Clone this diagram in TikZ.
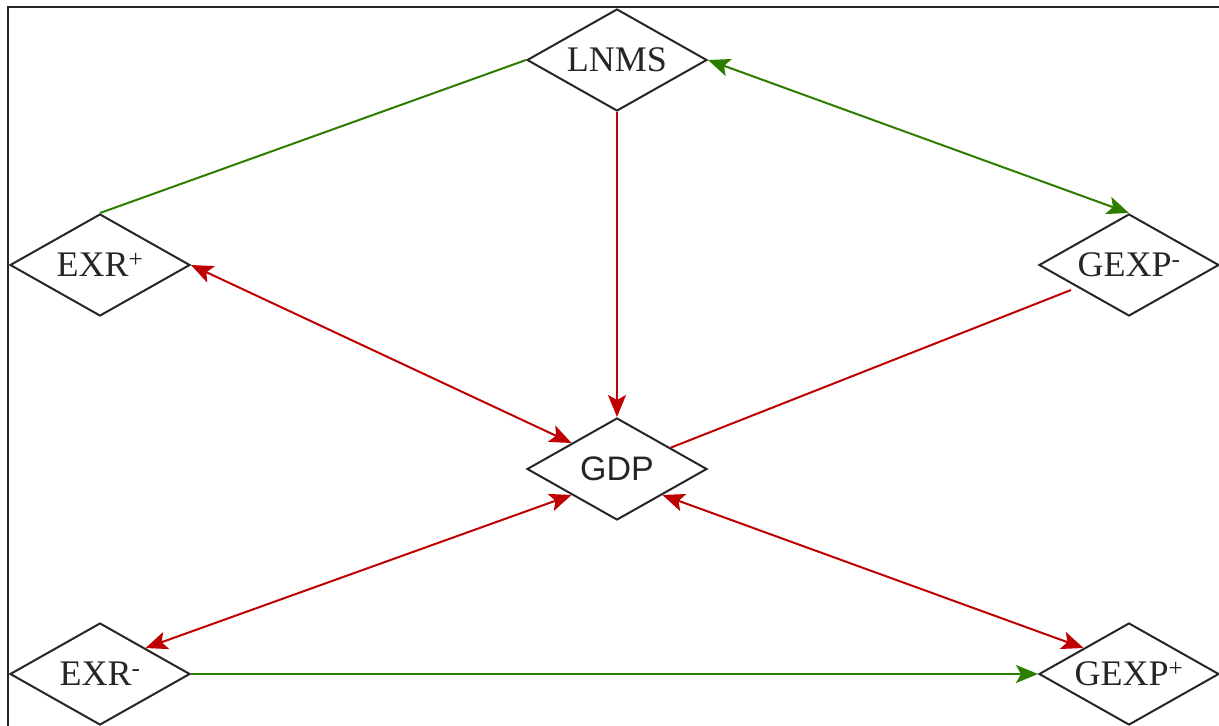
\documentclass[tikz,border=0pt]{standalone}
\usepackage{fontspec}
\setmainfont{Liberation Serif}
\newfontfamily\arialfont{Liberation Sans}
\usetikzlibrary{shapes.geometric,arrows.meta,calc}
\definecolor{egreen}{RGB}{45,125,0}
\definecolor{ered}{RGB}{190,0,0}
\tikzset{
  dia/.style={draw=black!85, line width=2pt, shape=diamond, aspect=1.76,
    minimum width=180pt, minimum height=102pt, inner sep=0pt,
    font=\fontsize{36}{40}\selectfont, text=black!85},
  tip/.style={-{Stealth[length=22pt,width=18pt,inset=5pt]}},
  tips/.style={{Stealth[length=22pt,width=18pt,inset=5pt]}-{Stealth[length=22pt,width=18pt,inset=5pt]}},
  gline/.style={draw=egreen, line width=2pt},
  rline/.style={draw=ered, line width=2pt},
}
\begin{document}
\begin{tikzpicture}[x=1pt,y=-1pt]
\useasboundingbox (0,0) rectangle (1219,726);
\draw[line width=2pt, black!85] (8,726) -- (8,7) -- (1219,7);
\node[dia] (lnms) at (617,60) {LNMS};
\node[dia] (exrp) at (100,265) {EXR\textsuperscript{+}};
\node[dia] (gexpm) at (1129,265) {GEXP\textsuperscript{-}};
\node[dia, font=\arialfont\fontsize{34}{38}\selectfont] (gdp) at (617,469) {GDP};
\node[dia] (exrm) at (100,674) {EXR\textsuperscript{-}};
\node[dia] (gexpp) at (1129,674) {GEXP\textsuperscript{+}};
\coordinate (gm) at ($(gexpm.center)+(-58,25)$);
\coordinate (gn) at ($(gdp.north)!0.59!(gdp.east)$);
\draw[gline] (lnms.west) -- (exrp.north);
\draw[gline, tips, egreen] (lnms.east) -- (gexpm.north);
\draw[rline, tip, ered] (lnms.south) -- (gdp.north);
\draw[rline, tips, ered] (exrp.east) -- (gdp.north west);
\draw[rline] (gm) -- (gn);
\draw[rline, tips, ered] (gdp.south west) -- (exrm.north east);
\draw[rline, tips, ered] (gdp.south east) -- (gexpp.north west);
\draw[gline, tip, egreen] (exrm.east) -- (gexpp.west);
\end{tikzpicture}
\end{document}
